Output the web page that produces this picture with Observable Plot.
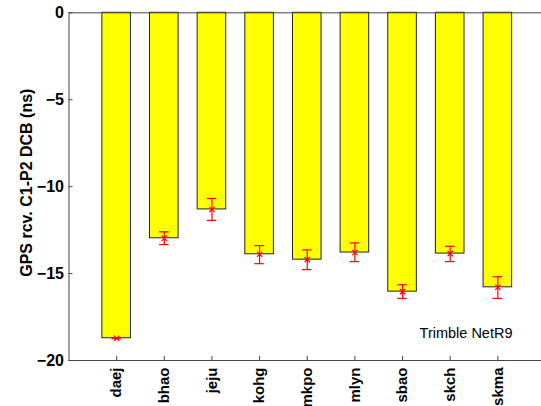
<!DOCTYPE html>
<html><head><meta charset="utf-8">
<script src="https://cdn.jsdelivr.net/npm/d3@7"></script>
<script src="https://cdn.jsdelivr.net/npm/@observablehq/plot@0.6"></script>
<style>
html,body{margin:0;padding:0;background:#fff;overflow:hidden}
svg{font-family:"Liberation Sans",Arial,sans-serif;display:block}
</style></head>
<body><div id="chart"></div>
<script>
const stations = ["daej","bhao","jeju","kohg","mkpo","mlyn","sbao","skch","skma"];
const dcb      = [-18.72,-12.97,-11.31,-13.89,-14.20,-13.79,-16.04,-13.85,-15.79];
const errLow   = [-18.75,-13.33,-11.94,-14.43,-14.77,-14.31,-16.43,-14.31,-16.43];
const errHigh  = [-18.69,-12.60,-10.68,-13.39,-13.64,-13.24,-15.64,-13.43,-15.18];
const yTicks   = [0,-5,-10,-15,-20];
const receiver = "Trimble NetR9";
const yLabel   = "GPS rcv. C1-P2 DCB (ns)";

const barHalf = 0.3, capHalf = 0.1;
const data = stations.map((s,i)=>({s, pos:i+1, v:dcb[i], lo:errLow[i], hi:errHigh[i]}));
const xTicks = data.map(d=>d.pos);

const chart = Plot.plot({
  width: 541, height: 406,
  marginLeft: 68.5, marginRight: -4, marginTop: 12.3, marginBottom: 46,
  style: {fontFamily: '"Liberation Sans", Arial, sans-serif', background: "#fff", overflow: "hidden"},
  x: {domain: [0,10]},
  y: {domain: [-20,0]},
  marks: [
    Plot.rectY(data, {x1: d=>d.pos-barHalf, x2: d=>d.pos+barHalf, y1: 0, y2: "v", fill: "#ffff00", stroke: "#222", strokeWidth: 1}),
    Plot.ruleX(data, {x: "pos", y1: "lo", y2: "hi", stroke: "#ff0000", strokeWidth: 1.2}),
    Plot.ruleY(data, {y: "lo", x1: d=>d.pos-capHalf, x2: d=>d.pos+capHalf, stroke: "#ff0000", strokeWidth: 1.2}),
    Plot.ruleY(data, {y: "hi", x1: d=>d.pos-capHalf, x2: d=>d.pos+capHalf, stroke: "#ff0000", strokeWidth: 1.2}),
    Plot.dot(data, {x: "pos", y: "v", symbol: "times", r: 2.5, stroke: "#ff0000", strokeWidth: 1.2}),
    Plot.frame({stroke: "#444", strokeWidth: 1}),
    Plot.axisY({ticks: yTicks, tickSize: 0, tickPadding: 5, fontSize: 16, fontWeight: "bold", fill: "#000", label: null}),
    Plot.axisY({ticks: yTicks, tickSize: 4, text: null, label: null, dx: 4, stroke: "#444"}),
    Plot.axisY({ticks: yTicks, anchor: "right", tickSize: 4, text: null, label: null, dx: -4, stroke: "#444"}),
    Plot.axisX({ticks: xTicks, tickSize: 0, tickPadding: 7, tickRotate: -90, fontSize: 15, fontWeight: "bold", fill: "#000",
      tickFormat: d=>stations[d-1], label: null}),
    Plot.axisX({ticks: xTicks, tickSize: 4, text: null, label: null, dy: -4, stroke: "#444"}),
    Plot.text([yLabel], {frameAnchor: "left", text: d=>d, rotate: -90, textAnchor: "middle", dx: -42, dy: -4, fontSize: 16, fontWeight: "bold", fill: "#000"}),
    Plot.text([receiver], {frameAnchor: "bottom-right", text: d=>d, textAnchor: "end", dx: -33, dy: -23, fontSize: 14.5, fill: "#000"})
  ]
});
document.getElementById("chart").appendChild(chart);
</script></body></html>
